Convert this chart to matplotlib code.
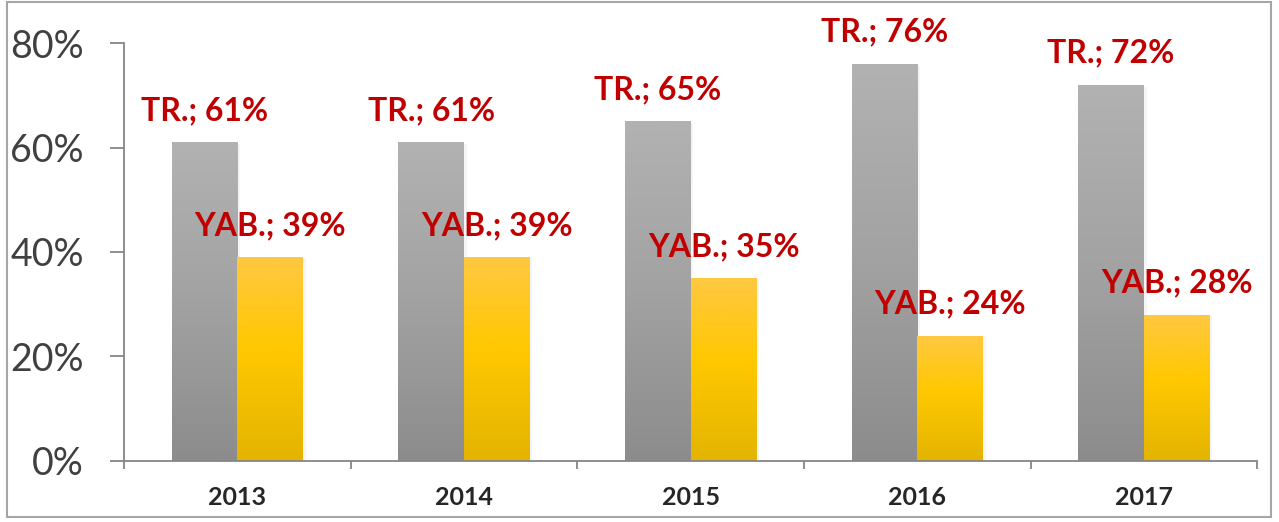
import matplotlib
matplotlib.use("Agg")
import matplotlib.pyplot as plt
import numpy as np
from matplotlib.colors import LinearSegmentedColormap
from matplotlib.patches import Rectangle
from matplotlib.ticker import FixedLocator, FuncFormatter

plt.rcParams['font.family'] = ['Lato', 'DejaVu Sans']

# data
years = ['2013', '2014', '2015', '2016', '2017']
tr_values = [0.61, 0.61, 0.65, 0.76, 0.72]
yab_values = [0.39, 0.39, 0.35, 0.24, 0.28]
series_names = ['TR.', 'YAB.']

grey_cmap = LinearSegmentedColormap.from_list('grey', ['#8c8c8c', '#a2a2a2', '#b2b2b2'])
gold_cmap = LinearSegmentedColormap.from_list('gold', [(0, '#e3b400'), (0.55, '#ffc800'), (1, '#ffc842')])


def gradient_bars(ax, bars, cmap):
    grad = np.linspace(0, 1, 256).reshape(-1, 1)
    for b in bars:
        x0, y0 = b.get_x(), b.get_y()
        w, h = b.get_width(), b.get_height()
        # soft shadow on the right side
        ax.add_patch(Rectangle((x0 + w, y0), w * 0.04, h * 0.995, color='#000000',
                               alpha=0.04, lw=0, zorder=1))
        im = ax.imshow(grad, cmap=cmap, origin='lower', aspect='auto',
                       extent=(x0, x0 + w, y0, y0 + h), zorder=2)
        im.set_clip_path(b)
        b.set_facecolor('none')


fig = plt.figure(figsize=(12.79, 5.22), dpi=100)
ax = fig.add_axes([0.097, 0.1169, 0.886, 0.8007])

x = np.arange(len(years))
width = 0.29
tr_bars = ax.bar(x - width / 2, tr_values, width, lw=0, zorder=2)
yab_bars = ax.bar(x + width / 2, yab_values, width, lw=0, zorder=2)
gradient_bars(ax, tr_bars, grey_cmap)
gradient_bars(ax, yab_bars, gold_cmap)

for bars, vals, name in [(tr_bars, tr_values, series_names[0]),
                         (yab_bars, yab_values, series_names[1])]:
    for b, v in zip(bars, vals):
        ax.annotate('%s; %d%%' % (name, round(v * 100)),
                    (b.get_x() + b.get_width() / 2, v),
                    xytext=(0, 16), textcoords='offset points',
                    ha='center', va='baseline', fontsize=23,
                    fontweight='bold', color='#c00000', zorder=5)

ax.set_xlim(-0.5, len(years) - 0.5)
ax.set_ylim(0, 0.8)
ax.set_autoscale_on(False)

ax.yaxis.set_major_locator(FixedLocator([0, 0.2, 0.4, 0.6, 0.8]))
ax.yaxis.set_major_formatter(FuncFormatter(lambda v, p: '%d%%' % round(v * 100)))
ax.tick_params(axis='y', length=10, width=1.3, color='#868686',
               labelsize=27, labelcolor='#404040', pad=19)

ax.set_xticks(x)
ax.set_xticklabels(years, fontsize=18, fontweight='bold', color='#262626')
ax.set_xticks(np.arange(-0.5, len(years)), minor=True)
ax.tick_params(axis='x', which='major', length=0, pad=18)
ax.tick_params(axis='x', which='minor', length=6, width=1.3, color='#868686', direction='out')

for s in ['top', 'right']:
    ax.spines[s].set_visible(False)
for s in ['left', 'bottom']:
    ax.spines[s].set_color('#868686')
    ax.spines[s].set_linewidth(1.3)

# outer chart frame
fig.patches.append(Rectangle((7 / 1279, 5 / 522), 1264 / 1279, 515 / 522,
                             transform=fig.transFigure, fill=False,
                             edgecolor='#a6a6a6', lw=1.5))

fig.savefig('out.png', dpi=100)
